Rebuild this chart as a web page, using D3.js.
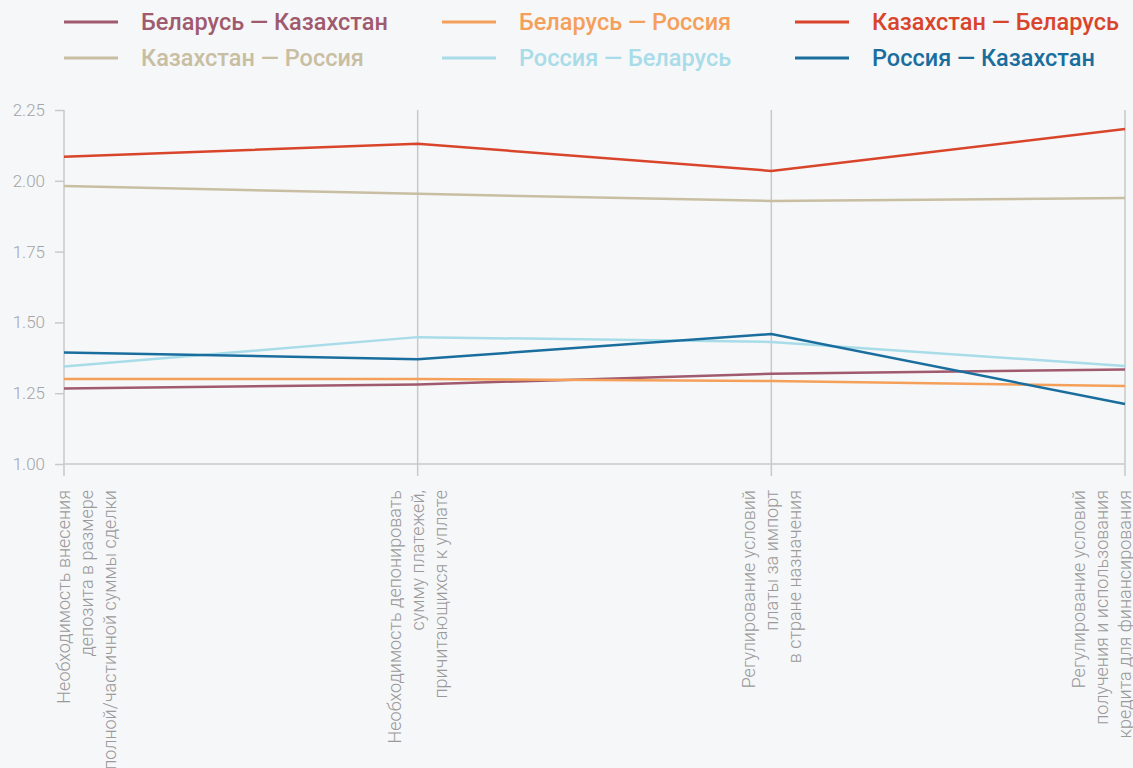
<!DOCTYPE html>
<html>
<head>
<meta charset="utf-8">
<script src="https://cdn.jsdelivr.net/npm/d3@7"></script>
<style>
  body { margin: 0; background: #f6f7f9; }
  svg { display: block; }
</style>
</head>
<body>
<svg width="1133" height="768"></svg>
<script>
// categories (axis labels split into lines)
var categories = [
  ["Необходимость внесения", "депозита в размере", "полной/частичной суммы сделки"],
  ["Необходимость депонировать", "сумму платежей,", "причитающихся к уплате"],
  ["Регулирование условий", "платы за импорт", "в стране назначения"],
  ["Регулирование условий", "получения и использования", "кредита для финансирования"]
];

var seriesNames = [
  "Беларусь — Казахстан", "Беларусь — Россия", "Казахстан — Беларусь",
  "Казахстан — Россия", "Россия — Беларусь", "Россия — Казахстан"
];

var seriesColors = ["#a05a6e", "#f5a05a", "#d9452b", "#c8bea2", "#a8dce8", "#1a6e9e"];

var byKz = [1.267, 1.281, 1.319, 1.334];   // Беларусь — Казахстан
var byRu = [1.300, 1.300, 1.293, 1.275];   // Беларусь — Россия
var kzBy = [2.085, 2.131, 2.035, 2.183];   // Казахстан — Беларусь
var kzRu = [1.982, 1.954, 1.929, 1.939];   // Казахстан — Россия
var ruBy = [1.344, 1.448, 1.431, 1.346];   // Россия — Беларусь
var ruKz = [1.394, 1.370, 1.459, 1.212];   // Россия — Казахстан

var yTicks = [1.00, 1.25, 1.50, 1.75, 2.00, 2.25];

var seriesValues = [byKz, byRu, kzBy, kzRu, ruBy, ruKz];

const svg = d3.select("svg"),
  plotLeft = 64, plotRight = 1125, plotTop = 110, plotBottom = 464;

var x = d3.scalePoint()
  .domain(d3.range(categories.length))
  .range([plotLeft, plotRight]);

var y = d3.scaleLinear()
  .domain([1, 2.25])
  .range([plotBottom, plotTop]);

// legend
var legend = svg.append("g").attr("class", "legend");
var colX = [64, 442, 795], rowY = [22, 58];

legend.selectAll("g")
    .data(seriesNames)
  .enter().append("g")
    .attr("transform", function(d, i) {
      return "translate(" + colX[i % 3] + "," + rowY[Math.floor(i / 3)] + ")"; })
    .each(function(d, i) {
      var item = d3.select(this);
      item.append("line")
        .attr("x1", 0).attr("x2", 54)
        .attr("y1", 0).attr("y2", 0)
        .style("stroke", seriesColors[i])
        .style("stroke-width", 3);
      item.append("text")
        .attr("x", 77)
        .attr("dy", "0.35em")
        .style("font-family", "Roboto, sans-serif")
        .style("font-weight", 500)
        .style("font-size", "23.5px")
        .style("fill", seriesColors[i])
        .text(d);
    });

// vertical category lines
svg.append("g").selectAll("line")
    .data(x.domain())
  .enter().append("line")
    .attr("x1", d => x(d)).attr("x2", d => x(d))
    .attr("y1", plotTop).attr("y2", plotBottom + 12)
    .style("stroke", "#c9c9c9")
    .style("stroke-width", 1.5);

// bottom line
svg.append("line")
  .attr("x1", plotLeft).attr("x2", plotRight)
  .attr("y1", plotBottom).attr("y2", plotBottom)
  .style("stroke", "#c9c9c9")
  .style("stroke-width", 1.5);

// y axis
var yAxis = svg.append("g")
  .attr("transform", "translate(" + plotLeft + ",0)")
  .call(d3.axisLeft(y).tickValues(yTicks).tickFormat(d3.format(".2f")).tickSize(9).tickPadding(10));

yAxis.select(".domain").remove();
yAxis.selectAll(".tick line").style("stroke", "#c9c9c9").style("stroke-width", 1.5);
yAxis.selectAll(".tick text")
  .style("font-family", "Roboto, sans-serif")
  .style("font-weight", 300)
  .style("font-size", "17px")
  .style("fill", "#a5a5a5");

// category labels, rotated
var lh = 23;
var labels = svg.append("g").selectAll("g")
    .data(categories)
  .enter().append("g")
    .attr("transform", function(d, i) {
      var half = (d.length - 1) / 2 * lh;
      var cx = Math.max(plotLeft + half, Math.min(plotRight - half, x(i)));
      return "translate(" + cx + "," + (plotBottom + 26) + ") rotate(-90)";
    });

labels.selectAll("text")
    .data(d => d)
  .enter().append("text")
    .attr("x", 0)
    .attr("y", function(d, j, arr) { return (j - (arr.length - 1) / 2) * lh; })
    .attr("dy", "0.35em")
    .attr("text-anchor", "end")
    .style("font-family", "Roboto, sans-serif")
    .style("font-weight", 300)
    .style("font-size", "18px")
    .style("fill", "#9a9a9a")
    .text(d => d);

// lines
var line = d3.line()
  .x((d, i) => x(i))
  .y(d => y(d));

svg.append("g").selectAll("path")
    .data(seriesValues)
  .enter().append("path")
    .attr("d", line)
    .style("fill", "none")
    .style("stroke", (d, i) => seriesColors[i])
    .style("stroke-width", 2.5);
</script>
</body>
</html>
